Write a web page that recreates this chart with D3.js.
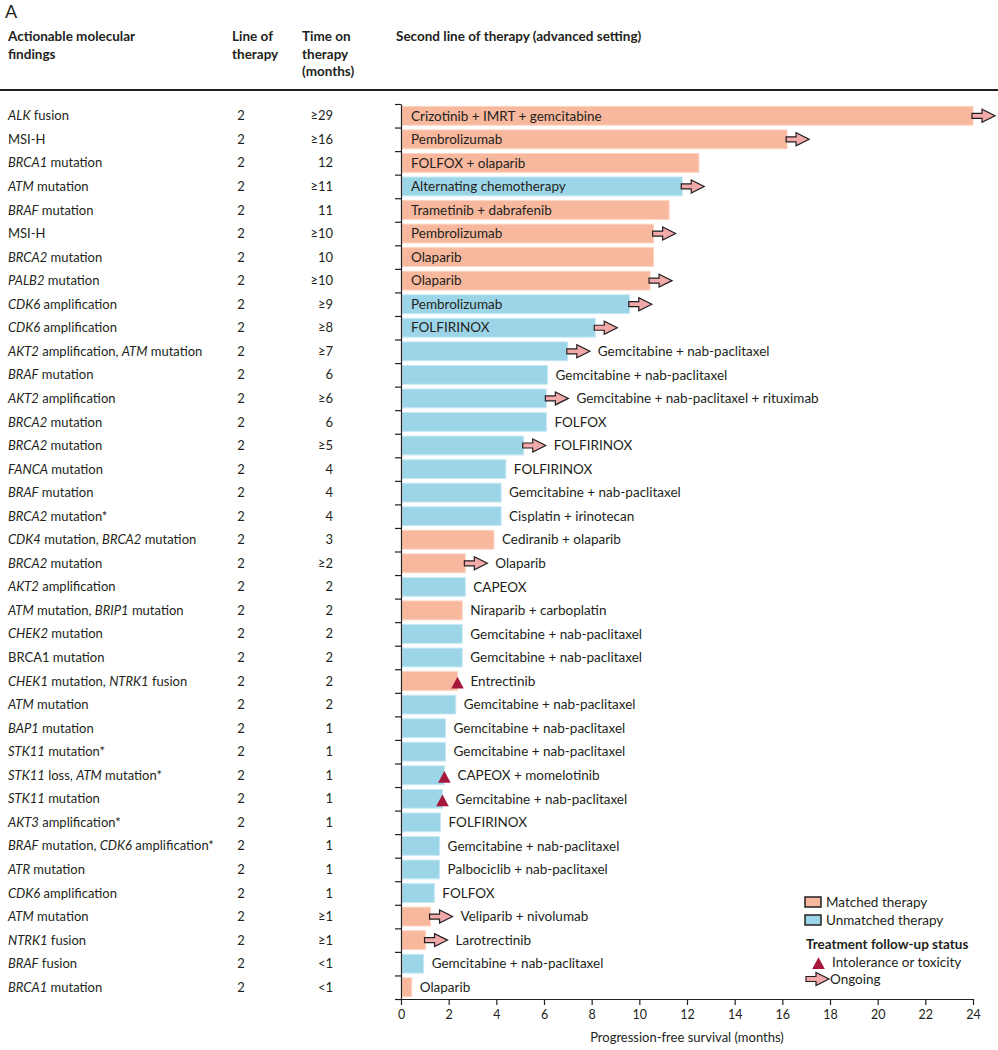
<!DOCTYPE html>
<html><head><meta charset="utf-8">
<script src="https://cdn.jsdelivr.net/npm/d3@7"></script>
<style>
body{margin:0;background:#fff}
svg{display:block}
text{font-family:Lato,"Open Sans",sans-serif;fill:#231f20}
</style>
</head><body>
<svg id="c" width="998" height="1050"></svg>
<script>
// ---------- data ----------
const findings = [
  "_ALK_ fusion","MSI-H","_BRCA1_ mutation","_ATM_ mutation","_BRAF_ mutation","MSI-H",
  "_BRCA2_ mutation","_PALB2_ mutation","_CDK6_ amplification","_CDK6_ amplification",
  "_AKT2_ amplification, _ATM_ mutation","_BRAF_ mutation","_AKT2_ amplification",
  "_BRCA2_ mutation","_BRCA2_ mutation","_FANCA_ mutation","_BRAF_ mutation",
  "_BRCA2_ mutation*","_CDK4_ mutation, _BRCA2_ mutation","_BRCA2_ mutation",
  "_AKT2_ amplification","_ATM_ mutation, _BRIP1_ mutation","_CHEK2_ mutation",
  "BRCA1 mutation","_CHEK1_ mutation, _NTRK1_ fusion","_ATM_ mutation","_BAP1_ mutation",
  "_STK11_ mutation*","_STK11_ loss, _ATM_ mutation*","_STK11_ mutation",
  "_AKT3_ amplification*","_BRAF_ mutation, _CDK6_ amplification*","_ATR_ mutation",
  "_CDK6_ amplification","_ATM_ mutation","_NTRK1_ fusion","_BRAF_ fusion","_BRCA1_ mutation"
];
const lineOfTherapy = [2,2,2,2,2,2,2,2,2,2,2,2,2,2,2,2,2,2,2,2,2,2,2,2,2,2,2,2,2,2,2,2,2,2,2,2,2,2];
const timeOnTherapy = ["≥29","≥16","12","≥11","11","≥10","10","≥10","≥9","≥8","≥7","6","≥6","6","≥5",
  "4","4","4","3","≥2","2","2","2","2","2","2","1","1","1","1","1","1","1","1","≥1","≥1","<1","<1"];
const therapies = [
  "Crizotinib + IMRT + gemcitabine","Pembrolizumab","FOLFOX + olaparib","Alternating chemotherapy",
  "Trametinib + dabrafenib","Pembrolizumab","Olaparib","Olaparib","Pembrolizumab","FOLFIRINOX",
  "Gemcitabine + nab-paclitaxel","Gemcitabine + nab-paclitaxel","Gemcitabine + nab-paclitaxel + rituximab",
  "FOLFOX","FOLFIRINOX","FOLFIRINOX","Gemcitabine + nab-paclitaxel","Cisplatin + irinotecan",
  "Cediranib + olaparib","Olaparib","CAPEOX","Niraparib + carboplatin","Gemcitabine + nab-paclitaxel",
  "Gemcitabine + nab-paclitaxel","Entrectinib","Gemcitabine + nab-paclitaxel","Gemcitabine + nab-paclitaxel",
  "Gemcitabine + nab-paclitaxel","CAPEOX + momelotinib","Gemcitabine + nab-paclitaxel","FOLFIRINOX",
  "Gemcitabine + nab-paclitaxel","Palbociclib + nab-paclitaxel","FOLFOX","Veliparib + nivolumab",
  "Larotrectinib","Gemcitabine + nab-paclitaxel","Olaparib"
];
const pfsMonths = [24,16.2,12.5,11.8,11.25,10.6,10.6,10.45,9.6,8.15,7.0,6.15,6.1,6.1,5.15,4.4,4.2,4.2,3.9,
  2.7,2.7,2.57,2.57,2.57,2.37,2.3,1.87,1.87,1.82,1.74,1.66,1.62,1.62,1.4,1.24,1.03,0.95,0.45];
// M = matched therapy, U = unmatched therapy
const therapyMatch = ["M","M","M","U","M","M","M","M","U","U","U","U","U","U","U","U","U","U","M","M",
  "U","M","U","U","M","U","U","U","U","U","U","U","U","U","M","M","U","M"];
// O = ongoing, T = intolerance or toxicity, "" = none
const followUp = ["O","O","","O","","O","","O","O","O","O","","O","","O","","","","","O",
  "","","","","T","","","","T","T","","","","","O","O","",""];
const xTicks = [0,2,4,6,8,10,12,14,16,18,20,22,24];
const legendItems = ["Matched therapy","Unmatched therapy"];

// ---------- style ----------
const C = {
  M:{fill:"#f8b89d",stroke:"#fcd4c3"},
  U:{fill:"#9dd5e8",stroke:"#c7e9f4"},
  arrow:"#f2a9a9", tri:"#a5183c", ink:"#231f20"
};
const FS = 13, FS2 = 13.5;

const svg = d3.select("#c");
const n = findings.length;
const x = d3.scaleLinear().domain([0,24]).range([401,973]);
const y = d3.scaleBand().domain(d3.range(n)).range([104,999]).paddingInner(0.2).paddingOuter(0.1);
const yEdge = d3.scaleLinear().domain([0,n]).range([104,999]);
const bw = y.bandwidth();
const yc = i => y(i) + bw/2;

// panel letter and header
svg.append("text").attr("x",5).attr("y",18).attr("font-size",18).text("A");
const hdr = svg.append("g").attr("font-size",FS2).attr("font-weight",700);
function multi(xp, lines){
  const t = hdr.append("text").attr("x",xp).attr("y",41);
  lines.forEach((l,k)=>t.append("tspan").attr("x",xp).attr("dy",k?17.5:0).text(l));
}
multi(8,["Actionable molecular","findings"]);
multi(232,["Line of","therapy"]);
multi(302,["Time on","therapy","(months)"]);
multi(396,["Second line of therapy (advanced setting)"]);
svg.append("line").attr("x1",0).attr("x2",998).attr("y1",90).attr("y2",90)
  .attr("stroke",C.ink).attr("stroke-width",2);

// left columns
const rows = svg.append("g").attr("font-size",FS);
findings.forEach((f,i)=>{
  const t = rows.append("text").attr("x",8).attr("y",yc(i)).attr("dy","0.35em");
  f.split("_").forEach((seg,k)=>{ if(seg) t.append("tspan").attr("font-style",k%2?"italic":"normal").text(seg); });
  rows.append("text").attr("x",241).attr("y",yc(i)).attr("dy","0.35em").attr("text-anchor","middle").text(lineOfTherapy[i]);
  rows.append("text").attr("x",333).attr("y",yc(i)).attr("dy","0.35em").attr("text-anchor","end").text(timeOnTherapy[i]);
});

// bars
const plot = svg.append("g");
plot.selectAll("rect.bar").data(pfsMonths).join("rect").attr("class","bar")
  .attr("x",x(0)+1).attr("y",(d,i)=>y(i)).attr("height",bw)
  .attr("width",d=>x(d)-x(0)-1)
  .attr("fill",(d,i)=>C[therapyMatch[i]].fill)
  .attr("stroke",(d,i)=>C[therapyMatch[i]].stroke).attr("stroke-width",1);

// arrow & triangle shapes
const arrowPts = (x0,cy)=>[[x0,cy-2.5],[x0+10,cy-2.5],[x0+10,cy-6.5],[x0+23,cy],[x0+10,cy+6.5],[x0+10,cy+2.5],[x0,cy+2.5]];
const triPts = (cx,cy)=>[[cx-6.3,cy+6],[cx,cy-5.8],[cx+6.3,cy+6]];
const ptsStr = p=>p.map(q=>q.join(",")).join(" ");

followUp.forEach((s,i)=>{
  const xe = x(pfsMonths[i]);
  if(s==="O") plot.append("polygon").attr("points",ptsStr(arrowPts(xe-1,yc(i))))
     .attr("fill",C.arrow).attr("stroke",C.ink).attr("stroke-width",1.2).attr("stroke-linejoin","miter");
  if(s==="T") plot.append("polygon").attr("points",ptsStr(triPts(xe,yc(i)+1.5))).attr("fill",C.tri);
});

// therapy labels
therapies.forEach((t,i)=>{
  const v = pfsMonths[i], xe = x(v);
  let lx;
  if(v>=8) lx = x(0)+10;
  else if(followUp[i]==="O") lx = xe+22+8;
  else if(followUp[i]==="T") lx = xe+13;
  else lx = xe+8;
  plot.append("text").attr("x",lx).attr("y",yc(i)).attr("dy","0.35em").attr("font-size",FS2).text(t);
});

// axes
const ax = svg.append("g").attr("transform","translate(0,999)")
  .call(d3.axisBottom(x).tickValues(xTicks).tickSize(6).tickSizeOuter(0));
ax.selectAll("text").attr("font-size",12.5).attr("font-family","Lato, sans-serif").attr("fill",C.ink).attr("dy","0.85em");
ax.selectAll("path,line").attr("stroke",C.ink).attr("stroke-width",1.2);
const ay = svg.append("g").attr("transform","translate(401,0)")
  .call(d3.axisLeft(yEdge).tickValues(d3.range(0,n+1)).tickSize(6).tickSizeOuter(0).tickFormat(""));
ay.selectAll("path,line").attr("stroke",C.ink).attr("stroke-width",1.2);
svg.append("text").attr("x",(x(0)+x(24))/2).attr("y",1042).attr("text-anchor","middle")
  .attr("font-size",FS).text("Progression-free survival (months)");

// legend
const lg = svg.append("g").attr("font-size",FS2);
["M","U"].forEach((k,j)=>{
  lg.append("rect").attr("x",805).attr("y",897+j*18).attr("width",16).attr("height",10)
    .attr("fill",C[k].fill).attr("stroke",C.ink).attr("stroke-width",1.5);
  lg.append("text").attr("x",826).attr("y",902+j*18).attr("dy","0.35em").text(legendItems[j]);
});
lg.append("text").attr("x",806).attr("y",944).attr("dy","0.35em").attr("font-weight",700).text("Treatment follow-up status");
lg.append("polygon").attr("points",ptsStr(triPts(818.5,963))).attr("fill",C.tri);
lg.append("text").attr("x",832).attr("y",962).attr("dy","0.35em").text("Intolerance or toxicity");
lg.append("polygon").attr("points",ptsStr(arrowPts(806,979))).attr("fill",C.arrow).attr("stroke",C.ink).attr("stroke-width",1.2);
lg.append("text").attr("x",830).attr("y",979).attr("dy","0.35em").text("Ongoing");
</script>
</body></html>
